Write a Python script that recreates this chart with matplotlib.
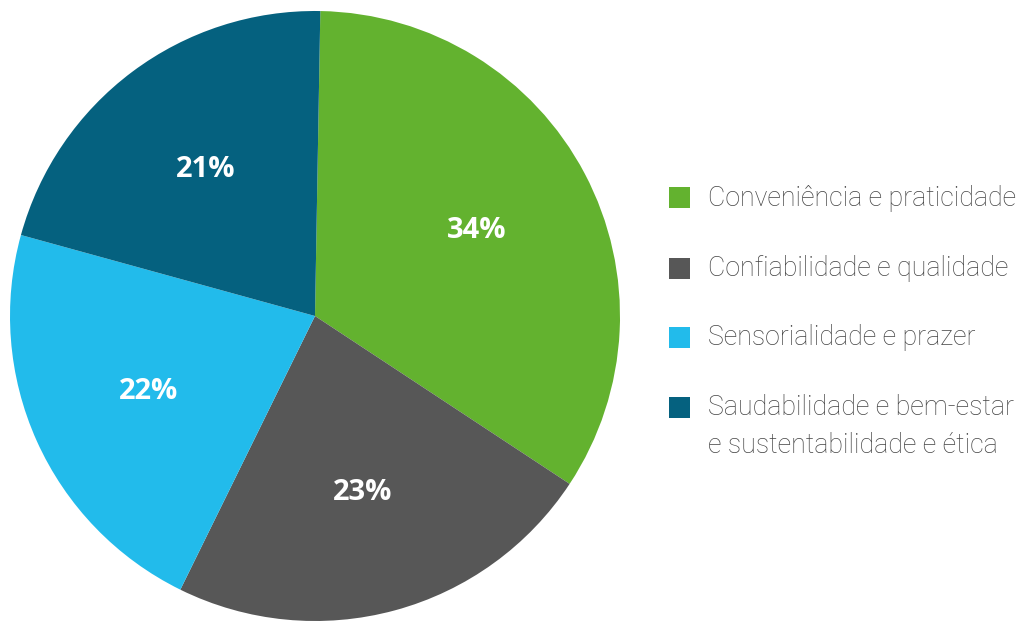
import matplotlib.pyplot as plt
from matplotlib.patches import Rectangle

categories = [
    'Conveniência e praticidade',
    'Confiabilidade e qualidade',
    'Sensorialidade e prazer',
    'Saudabilidade e bem-estar\ne sustentabilidade e ética',
]
shares = [34, 23, 22, 21]
colors = ['#63b22f', '#575757', '#22bbeb', '#05617f']

W, H = 1021, 621
fig = plt.figure(figsize=(W / 100, H / 100), dpi=100)

# pie centre and radius in pixels
cx, cy, r = 315, 316, 305
ax = fig.add_axes([(cx - r) / W, (H - cy - r) / H, 2 * r / W, 2 * r / H])

wedges, _, autotexts = ax.pie(
    shares, colors=colors, startangle=89, counterclock=False,
    autopct='%d%%', pctdistance=0.6, radius=1,
    wedgeprops=dict(linewidth=0),
    textprops=dict(color='white', fontsize=21, fontweight='bold', family='Open Sans'),
)
ax.set_xlim(-1, 1)
ax.set_ylim(-1, 1)
ax.set_aspect('auto')
ax.axis('off')

# legend drawn by hand: square + label, rows 70 px apart
row_y = [198, 268, 337, 407]
for y, c, lab in zip(row_y, colors, categories):
    fig.add_artist(Rectangle((669 / W, 1 - (y + 10.5) / H), 21 / W, 21 / H,
                             facecolor=c, edgecolor='none', transform=fig.transFigure))
    fig.text(708 / W, 1 - (y - 13) / H, lab, ha='left', va='top',
             family='Roboto', weight='light', fontsize=19.3, color='#444444',
             linespacing=1.52)

fig.savefig('out.png', dpi=100)
